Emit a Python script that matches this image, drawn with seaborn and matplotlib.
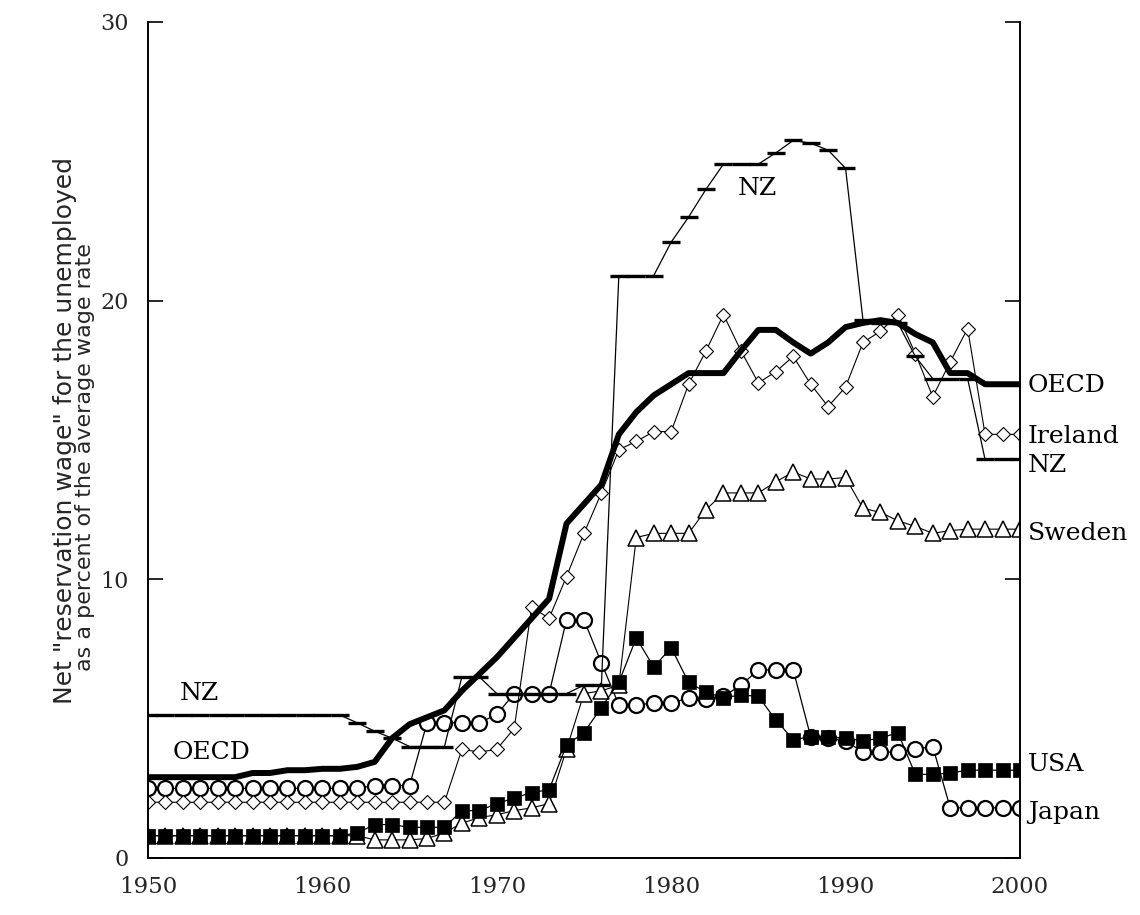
import numpy as np
import pandas as pd
import matplotlib
matplotlib.use('Agg')
import matplotlib.pyplot as plt
import seaborn as sns

years = list(range(1950, 2001))

oecd = [2.9, 2.9, 2.9, 2.9, 2.9, 2.9, 3.05, 3.05, 3.15, 3.15,
        3.2, 3.2, 3.27, 3.45, 4.3, 4.8, 5.05, 5.3, 6.0, 6.6,
        7.2, 7.9, 8.6, 9.3, 12.0, 12.7, 13.4, 15.2, 16.0, 16.6,
        17.0, 17.4, 17.4, 17.4, 18.2, 18.95, 18.95, 18.5, 18.1, 18.5,
        19.05, 19.2, 19.3, 19.2, 18.8, 18.5, 17.4, 17.4, 17.0, 17.0,
        17.0]

nz = [5.13, 5.13, 5.13, 5.13, 5.13, 5.13, 5.13, 5.13, 5.13, 5.13,
      5.13, 5.13, 4.85, 4.55, 4.3, 4.0, 4.0, 4.0, 6.5, 6.5,
      5.9, 5.9, 5.9, 5.9, 5.9, 6.2, 6.2, 20.9, 20.9, 20.9,
      22.1, 23.0, 24.0, 24.9, 24.9, 24.9, 25.3, 25.75, 25.65, 25.4,
      24.75, 19.3, 19.2, 19.2, 18.0, 17.2, 17.2, 17.2, 14.3, 14.3,
      14.3]

ireland = [2.0, 2.0, 2.0, 2.0, 2.0, 2.0, 2.0, 2.0, 2.0, 2.0,
           2.0, 2.0, 2.0, 2.0, 2.0, 2.0, 2.0, 2.0, 3.9, 3.8,
           3.9, 4.65, 9.0, 8.6, 10.1, 11.65, 13.1, 14.65, 14.95, 15.3,
           15.3, 17.0, 18.2, 19.5, 18.2, 17.05, 17.45, 18.0, 17.0, 16.2,
           16.9, 18.5, 18.9, 19.5, 18.1, 16.55, 17.8, 19.0, 15.2, 15.2,
           15.2]

sweden = [0.8, 0.8, 0.8, 0.8, 0.8, 0.8, 0.8, 0.8, 0.8, 0.8,
          0.8, 0.8, 0.8, 0.65, 0.65, 0.65, 0.7, 0.9, 1.25, 1.45,
          1.55, 1.7, 1.8, 1.95, 3.9, 5.9, 6.0, 6.2, 11.5, 11.65,
          11.65, 11.65, 12.5, 13.1, 13.1, 13.1, 13.5, 13.85, 13.6, 13.6,
          13.65, 12.55, 12.4, 12.1, 11.9, 11.65, 11.75, 11.8, 11.8, 11.8,
          11.8]

usa = [0.8, 0.8, 0.8, 0.8, 0.8, 0.8, 0.8, 0.8, 0.8, 0.8,
       0.8, 0.8, 0.9, 1.2, 1.2, 1.1, 1.1, 1.1, 1.7, 1.7,
       1.95, 2.15, 2.35, 2.45, 4.05, 4.5, 5.4, 6.3, 7.9, 6.85,
       7.55, 6.3, 5.95, 5.75, 5.85, 5.8, 4.95, 4.25, 4.35, 4.35,
       4.3, 4.2, 4.3, 4.5, 3.0, 3.0, 3.05, 3.15, 3.15, 3.15,
       3.15]

japan = [2.5, 2.5, 2.5, 2.5, 2.5, 2.5, 2.5, 2.5, 2.5, 2.5,
         2.5, 2.5, 2.5, 2.6, 2.6, 2.6, 4.85, 4.85, 4.85, 4.85,
         5.15, 5.9, 5.9, 5.9, 8.55, 8.55, 7.0, 5.5, 5.5, 5.55,
         5.55, 5.75, 5.7, 5.8, 6.2, 6.75, 6.75, 6.75, 4.35, 4.3,
         4.2, 3.8, 3.8, 3.8, 3.9, 4.0, 1.8, 1.8, 1.8, 1.8,
         1.8]

right_labels = ['OECD', 'Ireland', 'NZ', 'Sweden', 'USA', 'Japan']
right_label_y = [16.97, 15.14, 14.07, 11.63, 3.34, 1.65]

df = pd.DataFrame({'year': years, 'OECD': oecd, 'NZ': nz, 'Ireland': ireland,
                   'Sweden': sweden, 'USA': usa, 'Japan': japan})

sns.set_style('white')
plt.rcParams['font.family'] = ['DejaVu Serif']

fig = plt.figure(figsize=(11.4, 9.15), dpi=100)
ax = fig.add_axes([0.1298, 0.0623, 0.7649, 0.9137])

# thin marker series first, thick OECD last so it sits on top
sns.lineplot(data=df, x='year', y='Japan', ax=ax, color='black', lw=0.9,
             marker='o', markersize=10.8, markerfacecolor='white',
             markeredgecolor='black', markeredgewidth=1.6)
sns.lineplot(data=df, x='year', y='Ireland', ax=ax, color='black', lw=0.8,
             marker='D', markersize=7.4, markerfacecolor='white',
             markeredgecolor='black', markeredgewidth=0.8)
sns.lineplot(data=df, x='year', y='Sweden', ax=ax, color='black', lw=0.8,
             marker='^', markersize=11, markerfacecolor='white',
             markeredgecolor='black', markeredgewidth=1.1)
sns.lineplot(data=df, x='year', y='USA', ax=ax, color='black', lw=0.9,
             marker='s', markersize=10, markerfacecolor='black',
             markeredgecolor='black', markeredgewidth=0.5)
sns.lineplot(data=df, x='year', y='NZ', ax=ax, color='black', lw=0.9,
             marker='_', markersize=13.5, markeredgewidth=2.4,
             markeredgecolor='black', markerfacecolor='black')
sns.lineplot(data=df, x='year', y='OECD', ax=ax, color='black', lw=4.3)

ax.set_xlim(1950, 2000)
ax.set_ylim(0, 30)
ax.set_xticks([1950, 1960, 1970, 1980, 1990, 2000])
ax.set_yticks([0, 10, 20, 30])
ax.set_xlabel('')
ax.set_ylabel('')

for s in ['left', 'right', 'bottom']:
    ax.spines[s].set_color('black')
    ax.spines[s].set_linewidth(1.4)
ax.spines['top'].set_visible(False)

ax.tick_params(axis='x', direction='out', length=7, width=1.4, pad=6, labelsize=16.5)
ax.tick_params(axis='y', direction='in', length=10.8, width=1.4, pad=14, labelsize=16,
               right=True, left=True)

# series labels
lab_kw = dict(fontsize=18, color='black', va='center', ha='left', clip_on=False)
for name, yv in zip(right_labels, right_label_y):
    ax.text(2000.45, yv, name, **lab_kw)
ax.text(1951.8, 5.92, 'NZ', **lab_kw)
ax.text(1951.4, 3.8, 'OECD', **lab_kw)
ax.text(1983.8, 24.04, 'NZ', **lab_kw)

fig.text(0.057, 0.53, 'Net "reservation wage" for the unemployed', rotation=90,
         ha='center', va='center', fontsize=18, family='DejaVu Sans')
fig.text(0.0745, 0.50, 'as a percent of the average wage rate', rotation=90,
         ha='center', va='center', fontsize=16, family='DejaVu Sans')

plt.savefig('out.png', dpi=100)
plt.close()
